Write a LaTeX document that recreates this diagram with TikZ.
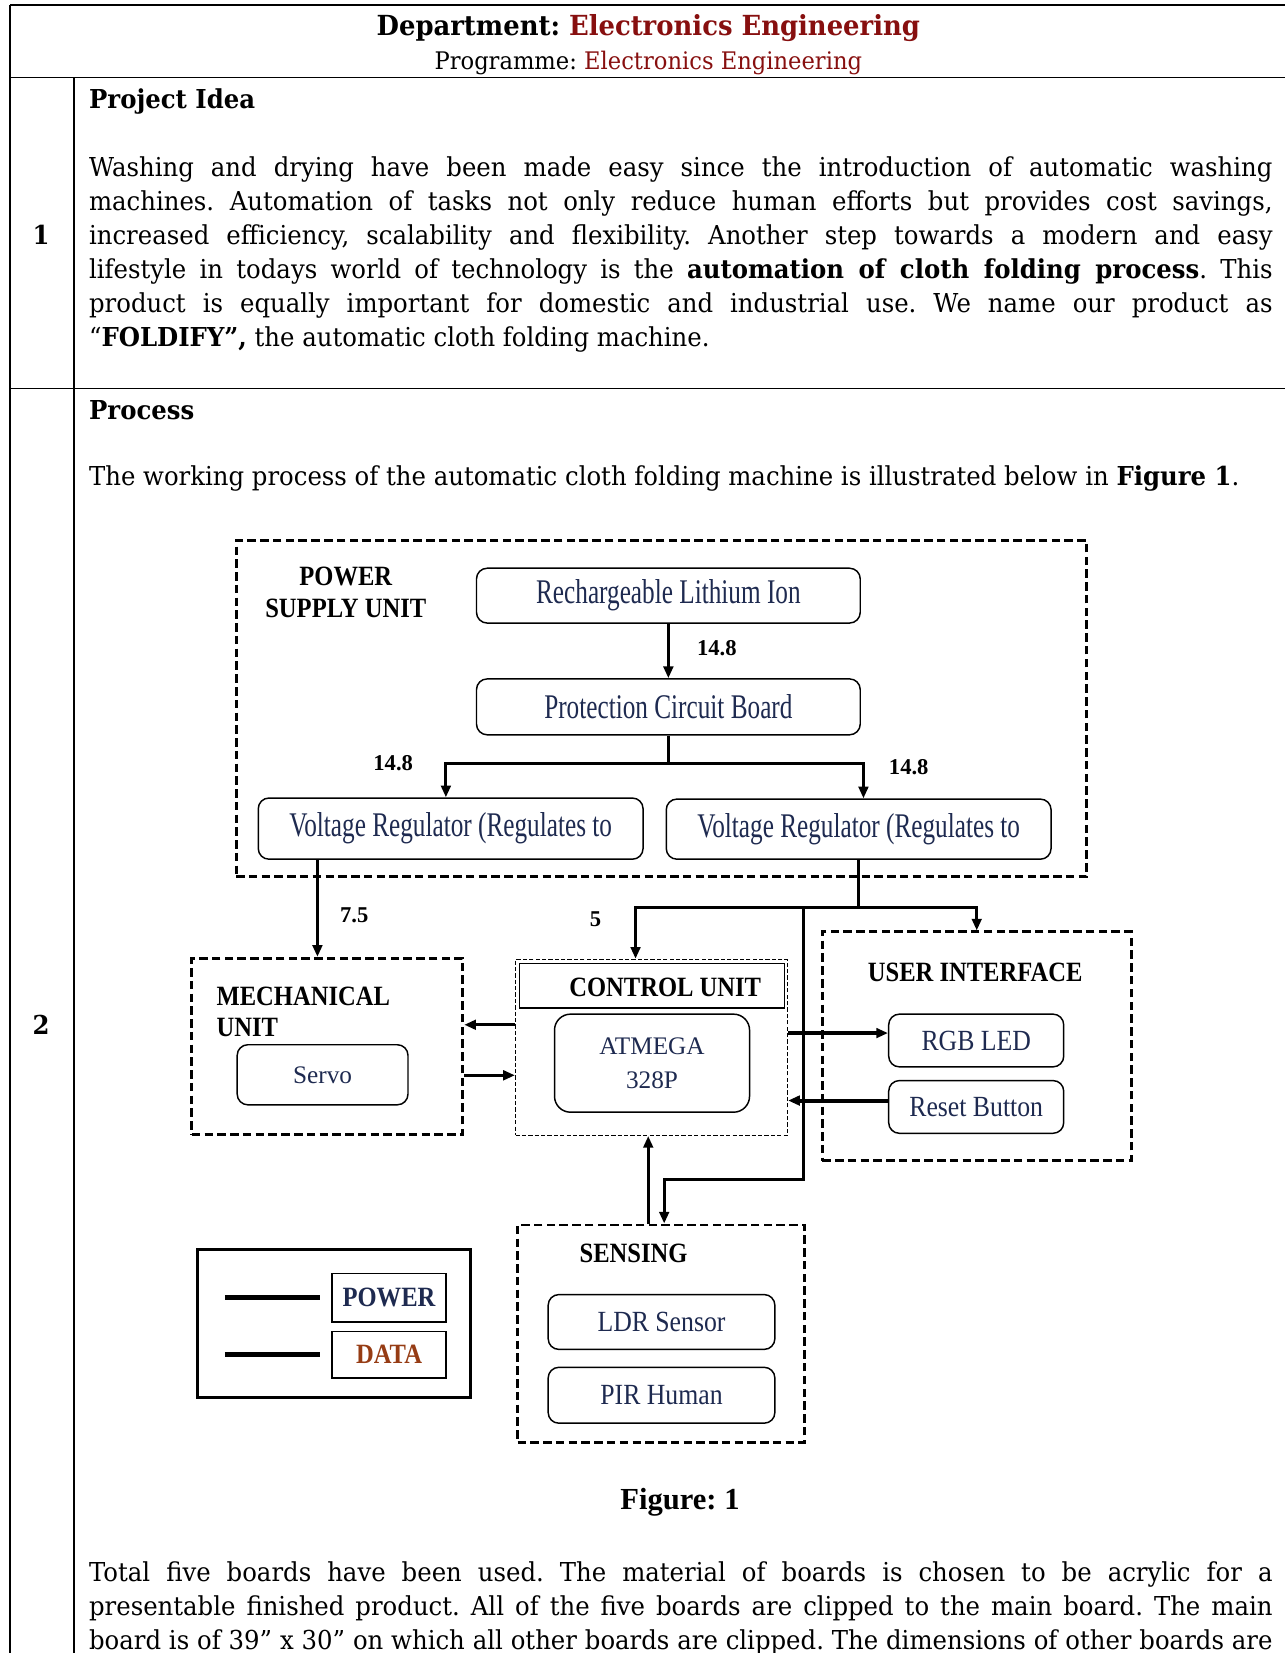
\documentclass[tikz,border=0pt]{standalone}
\usepackage{fontspec}
\usepackage{xcolor}
\setmainfont{DejaVu Serif}[FakeStretch=0.935]
\newfontfamily\timesfont{Liberation Serif}
\newfontfamily\bigfont[FakeStretch=0.73]{Liberation Serif}
\newfontfamily\diagfont[FakeStretch=0.88]{Liberation Serif}
\usetikzlibrary{arrows.meta,positioning,calc}
\frenchspacing

\definecolor{deptred}{RGB}{135,15,15}
\definecolor{boxnavy}{RGB}{30,42,80}
\definecolor{dataorange}{RGB}{150,60,20}

\newdimen\dpx
\dpx=0.3964pt
\newcommand{\jline}[1]{\makebox[445pt][s]{#1}}

\begin{document}
\begin{tikzpicture}[x=\dpx, y=-\dpx,
    bodyline/.style={anchor=base west, inner sep=0pt, font=\fontsize{9.8}{12}\selectfont},
    unitbox/.style={draw, line width=1.1pt, dash pattern=on 3.2pt off 1.6pt, inner sep=0pt},
    comp/.style={draw, rounded corners=4pt, line width=0.55pt, inner sep=0pt, text=boxnavy},
    unitlabel/.style={inner sep=0pt, font=\diagfont\bfseries\fontsize{10.5}{11.9}\selectfont},
    volt/.style={inner sep=0pt, font=\timesfont\bfseries\fontsize{8.5}{10}\selectfont},
    wire/.style={line width=1.1pt},
    datawire/.style={line width=1.5pt},
    >={Triangle[length=4.4pt,width=3.6pt]}]
    \useasboundingbox (0,0) rectangle (1219,1568);
    \clip (0,0) rectangle (1219,1568);

    % Table rules
    \draw[line width=0.7pt] (9.5,5) -- (1219,5);
    \draw[line width=0.7pt] (9.5,73.5) -- (1219,73.5);
    \draw[line width=0.7pt] (9.5,368.5) -- (1219,368.5);
    \draw[line width=0.55pt] (9.5,5) -- (9.5,1568);
    \draw[line width=0.55pt] (70,73.5) -- (70,1568);

    % Header
    \node[anchor=base, inner sep=0pt] (dept) at (615,34)
        {\bfseries\fontsize{10.4}{12}\selectfont Department: \textcolor{deptred}{Electronics Engineering}};
    \node[anchor=base, inner sep=0pt] (prog) at (615,66)
        {\fontsize{9.1}{11}\selectfont Programme: \textcolor{deptred}{Electronics Engineering}};

    % Row 1
    \node[anchor=base, inner sep=0pt, font=\bfseries\fontsize{9.8}{12}\selectfont] (row1) at (39,232) {1};
    \node[bodyline, font=\bfseries\fontsize{9.8}{12}\selectfont] (idea) at (84,102.5) {Project Idea};
    \node[bodyline] (idea1) at (84,167) {\jline{Washing and drying have been made easy since the introduction of automatic washing}};
    \node[bodyline] (idea2) at (84,199.4) {\jline{machines. Automation of tasks not only reduce human efforts but provides cost savings,}};
    \node[bodyline] (idea3) at (84,231.8) {\jline{increased efficiency, scalability and flexibility. Another step towards a modern and easy}};
    \node[bodyline] (idea4) at (84,264.2) {\jline{lifestyle in todays world of technology is the \textbf{automation of cloth folding process}. This}};
    \node[bodyline] (idea5) at (84,296.6) {\jline{product is equally important for domestic and industrial use. We name our product as}};
    \node[bodyline] (idea6) at (84,329) {“\textbf{FOLDIFY”,} the automatic cloth folding machine.};

    % Row 2
    \node[anchor=base, inner sep=0pt, font=\bfseries\fontsize{9.8}{12}\selectfont] (row2) at (39,981) {2};
    \node[bodyline, font=\bfseries\fontsize{9.8}{12}\selectfont] (proc) at (84,397.5) {Process};
    \node[bodyline] (intro) at (84,461) {The working process of the automatic cloth folding machine is illustrated below in \textbf{Figure 1}.};

    % Power supply unit
    \node[unitbox, minimum width=807\dpx, minimum height=318\dpx] (psu) at (627.5,672) {};
    \node[unitlabel, align=center] (psulab) at (328,562) {POWER\\SUPPLY UNIT};
    \node[comp, minimum width=364\dpx, minimum height=52\dpx, font=\bigfont\fontsize{13}{14}\selectfont] (bat) at (634,565) {Rechargeable Lithium Ion};
    \node[comp, minimum width=364\dpx, minimum height=53\dpx, font=\bigfont\fontsize{13}{14}\selectfont] (pcb) at (634,670.5) {Protection Circuit Board};
    \node[comp, minimum width=365\dpx, minimum height=58\dpx, font=\bigfont\fontsize{13}{14}\selectfont] (vrl) at (427.5,786) {Voltage Regulator (Regulates to};
    \node[comp, minimum width=365\dpx, minimum height=57\dpx, font=\bigfont\fontsize{13}{14}\selectfont] (vrr) at (814.5,786.5) {Voltage Regulator (Regulates to};

    % Mechanical unit
    \node[unitbox, minimum width=257\dpx, minimum height=167\dpx] (mech) at (310.5,992.5) {};
    \node[unitlabel, align=left, anchor=west] (mechlab) at (205,960) {MECHANICAL\\UNIT};
    \node[comp, minimum width=162\dpx, minimum height=57\dpx, font=\timesfont\fontsize{9.5}{11}\selectfont] (servo) at (306,1019.5) {Servo};

    % Control unit
    \node[draw, line width=0.45pt, dash pattern=on 1.6pt off 0.8pt, minimum width=258\dpx, minimum height=167\dpx, inner sep=0pt] (ctrl) at (618,993.5) {};
    \node[draw, line width=0.55pt, minimum width=251\dpx, minimum height=42\dpx, inner sep=0pt] (ctrlhead) at (618.5,935) {};
    \node[unitlabel] (ctrllab) at (631,937) {CONTROL UNIT};
    \node[comp, rounded corners=6pt, minimum width=185\dpx, minimum height=93\dpx, align=center,
        font=\timesfont\fontsize{9.5}{12.7}\selectfont] (atm) at (618.5,1008.5) {ATMEGA\\328P};

    % User interface
    \node[unitbox, minimum width=293\dpx, minimum height=217\dpx] (ui) at (926.5,992.5) {};
    \node[unitlabel] (uilab) at (925,922) {USER INTERFACE};
    \node[comp, minimum width=166\dpx, minimum height=50\dpx, font=\diagfont\fontsize{11}{13}\selectfont] (rgb) at (926,987) {RGB LED};
    \node[comp, minimum width=166\dpx, minimum height=50\dpx, font=\diagfont\fontsize{11}{13}\selectfont] (rst) at (926,1050) {Reset Button};

    % Sensing
    \node[unitbox, minimum width=272\dpx, minimum height=206\dpx] (sens) at (627,1265) {};
    \node[unitlabel] (senslab) at (601,1189) {SENSING};
    \node[comp, minimum width=215\dpx, minimum height=52\dpx, font=\diagfont\fontsize{11}{13}\selectfont] (ldr) at (627.5,1254) {LDR Sensor};
    \node[comp, minimum width=215\dpx, minimum height=53\dpx, font=\diagfont\fontsize{11}{13}\selectfont] (pir) at (627.5,1323.5) {PIR Human};

    % Legend
    \node[draw, line width=1.1pt, minimum width=259\dpx, minimum height=141\dpx, inner sep=0pt] (key) at (316.5,1255.5) {};
    \node[draw, line width=0.55pt, minimum width=108\dpx, minimum height=46\dpx, inner sep=0pt,
        font=\diagfont\bfseries\fontsize{10.5}{12}\selectfont, text=boxnavy] (keypow) at (369,1231) {POWER};
    \node[draw, line width=0.55pt, minimum width=108\dpx, minimum height=44\dpx, inner sep=0pt,
        font=\diagfont\bfseries\fontsize{10.5}{12}\selectfont, text=dataorange] (keydat) at (369,1285) {DATA};
    \draw[line width=2pt] ([xshift=-40pt]keypow.west) -- ([xshift=-4.4pt]keypow.west);
    \draw[line width=2pt] ([xshift=-40pt]keydat.west) -- ([xshift=-4.4pt]keydat.west);

    % Supply lines
    \draw[wire,->] (bat) -- (pcb);
    \coordinate (split) at ($(pcb.south)+(0,26.5)$);
    \draw[wire] (pcb.south) -- (split);
    \draw[wire,->] (split) -| ([xshift=-1.8pt]vrl.north);
    \draw[wire,->] (split) -| ([xshift=1.8pt]vrr.north);
    \coordinate (vl) at ([xshift=-50.1pt]vrl.south);
    \draw[wire,->] (vl) -- (vl |- mech.north);
    \coordinate (bus) at ($(vrr.south)+(0,45)$);
    \draw[wire] (vrr.south) -- (bus);
    \draw[wire,->] (bus) -| ([xshift=-6pt]ctrl.north);
    \draw[wire,->] (bus) -| (ui.north);
    \coordinate (tap) at ($(bus)+(-52.5,0)$);
    \draw[wire,->] (tap) -- ++(0,258) -| ([xshift=1.2pt]sens.north);

    % Voltages
    \node[volt] (v1) at (680,615) {14.8};
    \node[volt] (v2) at (373,724) {14.8};
    \node[volt] (v3) at (862,728) {14.8};
    \node[volt] (v4) at (336,868) {7.5};
    \node[volt] (v5) at (565,872) {5};

    % Data lines
    \coordinate (c2m) at ([yshift=8.5pt]ctrl.west);
    \draw[wire,->] (c2m) -- (c2m -| mech.east);
    \coordinate (m2c) at ([yshift=-10.5pt]ctrl.west);
    \draw[wire,->] (m2c -| mech.east) -- (m2c);
    \coordinate (c2r) at ([yshift=2.8pt]rgb.west);
    \draw[datawire,->] (c2r -| ctrl.east) -- (c2r);
    \coordinate (r2c) at ([yshift=2.4pt]rst.west);
    \draw[datawire,->] (r2c) -- (r2c -| ctrl.east);
    \coordinate (s2c) at ([xshift=-4.8pt]sens.north);
    \draw[wire,->] (s2c) -- (s2c |- ctrl.south);

    % Caption and closing text
    \node[inner sep=0pt, font=\timesfont\bfseries\fontsize{11.5}{13}\selectfont] (fig) at (645,1425) {Figure: 1};
    \node[bodyline] (tot1) at (84,1500) {\jline{Total five boards have been used. The material of boards is chosen to be acrylic for a}};
    \node[bodyline] (tot2) at (84,1532.5) {\jline{presentable finished product. All of the five boards are clipped to the main board. The main}};
    \node[bodyline] (tot3) at (84,1565) {\jline{board is of 39” x 30” on which all other boards are clipped. The dimensions of other boards are}};
\end{tikzpicture}
\end{document}
